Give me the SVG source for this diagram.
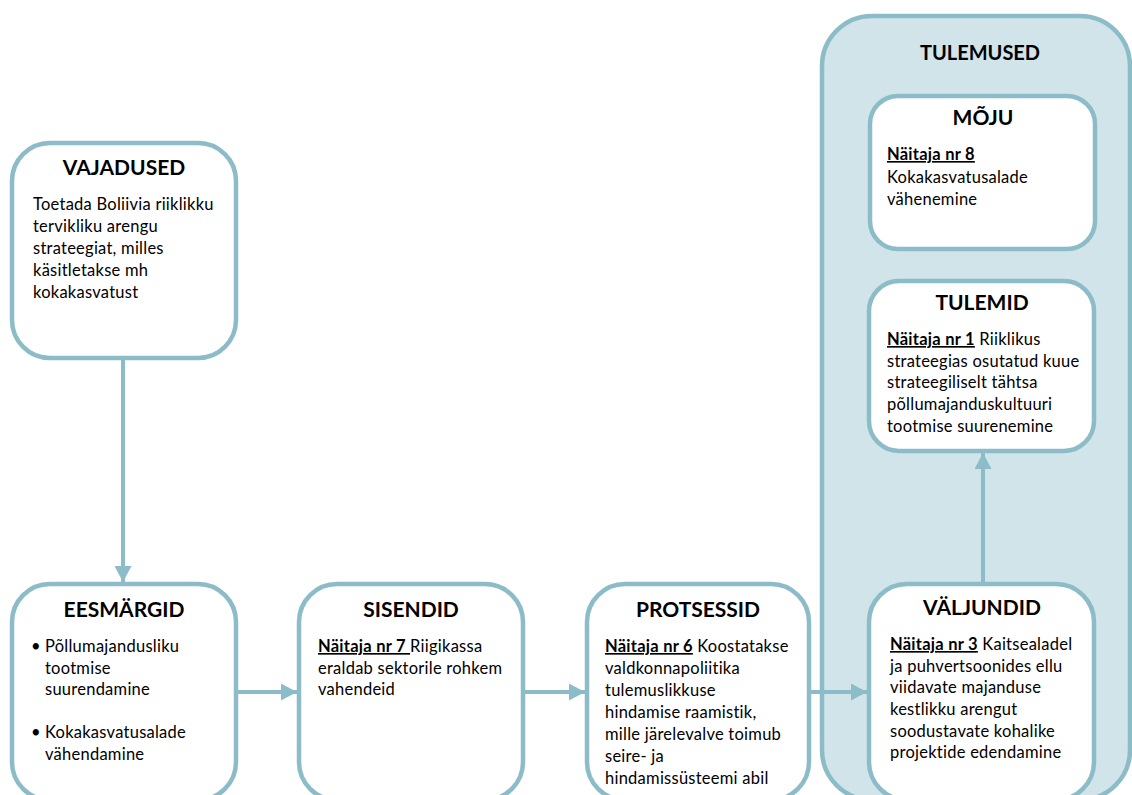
<svg xmlns="http://www.w3.org/2000/svg" width="1132" height="795" viewBox="0 0 1132 795">
<style>
.box{fill:#ffffff;stroke:#8cbcc7;stroke-width:4.5}
.cont{fill:#d0e4e9;stroke:#8cbcc7;stroke-width:4.5}
.title{font-family:Lato,"Liberation Sans",sans-serif;font-weight:bold;font-size:21px;fill:#000;text-anchor:middle}
.body{font-family:Lato,"Liberation Sans",sans-serif;font-size:16.5px;letter-spacing:0.25px;fill:#000}
.lbl{font-weight:bold;text-decoration:underline}
.conn{stroke:#8cbcc7;stroke-width:4;fill:none}
</style>
<defs>
<marker id="ah" markerUnits="userSpaceOnUse" markerWidth="16" markerHeight="17" refX="16" refY="8.5" orient="auto">
<path d="M0,0 L16,8.5 L0,17 z" fill="#8cbcc7"/>
</marker>
</defs>
<g id="tulemused">
<rect class="cont" x="822" y="16" width="308" height="784" rx="50"/>
<text class="title" x="980" y="60" style="font-size:20px">TULEMUSED</text>
</g>
<g id="connectors">
<line class="conn" x1="123" y1="360" x2="123" y2="582" marker-end="url(#ah)"/>
<line class="conn" x1="238" y1="692" x2="297" y2="692" marker-end="url(#ah)"/>
<line class="conn" x1="525" y1="692" x2="585" y2="692" marker-end="url(#ah)"/>
<line class="conn" x1="811" y1="692" x2="867" y2="692" marker-end="url(#ah)"/>
<line class="conn" x1="983" y1="582" x2="983" y2="453" marker-end="url(#ah)"/>
</g>
<g id="vajadused">
<rect class="box" x="12" y="143" width="224" height="215" rx="38"/>
<text class="title" x="124" y="175">VAJADUSED</text>
<text class="body" x="33" y="210">Toetada Boliivia riiklikku</text>
<text class="body" x="33" y="232">tervikliku arengu</text>
<text class="body" x="33" y="254">strateegiat, milles</text>
<text class="body" x="33" y="276">käsitletakse mh</text>
<text class="body" x="33" y="298">kokakasvatust</text>
</g>
<g id="eesmargid">
<rect class="box" x="12" y="584" width="224" height="216" rx="38"/>
<text class="title" x="124" y="617">EESMÄRGID</text>
<text class="body" x="31" y="652">•</text>
<text class="body" x="45" y="652">Põllumajandusliku</text>
<text class="body" x="45" y="674">tootmise</text>
<text class="body" x="45" y="695">suurendamine</text>
<text class="body" x="31" y="738">•</text>
<text class="body" x="45" y="738">Kokakasvatusalade</text>
<text class="body" x="45" y="760">vähendamine</text>
</g>
<g id="sisendid">
<rect class="box" x="299" y="584" width="224" height="216" rx="38"/>
<text class="title" x="411" y="617">SISENDID</text>
<text class="body" x="318" y="652"><tspan class="lbl">Näitaja nr 7 </tspan>Riigikassa</text>
<text class="body" x="318" y="674">eraldab sektorile rohkem</text>
<text class="body" x="318" y="695">vahendeid</text>
</g>
<g id="protsessid">
<rect class="box" x="587" y="584" width="222" height="216" rx="38"/>
<text class="title" x="698" y="617">PROTSESSID</text>
<text class="body" x="605" y="652"><tspan class="lbl">Näitaja nr 6</tspan> Koostatakse</text>
<text class="body" x="605" y="674">valdkonnapoliitika</text>
<text class="body" x="605" y="696">tulemuslikkuse</text>
<text class="body" x="605" y="718">hindamise raamistik,</text>
<text class="body" x="605" y="740">mille järelevalve toimub</text>
<text class="body" x="605" y="762">seire- ja</text>
<text class="body" x="605" y="784">hindamissüsteemi abil</text>
</g>
<g id="valjundid">
<rect class="box" x="869" y="584" width="225" height="216" rx="38"/>
<text class="title" x="982" y="615">VÄLJUNDID</text>
<text class="body" x="890" y="650"><tspan class="lbl">Näitaja nr 3</tspan> Kaitsealadel</text>
<text class="body" x="890" y="672">ja puhvertsoonides ellu</text>
<text class="body" x="890" y="693">viidavate majanduse</text>
<text class="body" x="890" y="715">kestlikku arengut</text>
<text class="body" x="890" y="737">soodustavate kohalike</text>
<text class="body" x="890" y="758">projektide edendamine</text>
</g>
<g id="tulemid">
<rect class="box" x="869" y="281" width="225" height="170" rx="30"/>
<text class="title" x="982" y="310">TULEMID</text>
<text class="body" x="887" y="345"><tspan class="lbl">Näitaja nr 1</tspan> Riiklikus</text>
<text class="body" x="887" y="367">strateegias osutatud kuue</text>
<text class="body" x="887" y="388">strateegiliselt tähtsa</text>
<text class="body" x="887" y="410">põllumajanduskultuuri</text>
<text class="body" x="887" y="432">tootmise suurenemine</text>
</g>
<g id="moju">
<rect class="box" x="870" y="96" width="225" height="153" rx="28"/>
<text class="title" x="983" y="125">MÕJU</text>
<text class="body" x="887" y="160"><tspan class="lbl">Näitaja nr 8</tspan></text>
<text class="body" x="887" y="183">Kokakasvatusalade</text>
<text class="body" x="887" y="205">vähenemine</text>
</g>
</svg>
